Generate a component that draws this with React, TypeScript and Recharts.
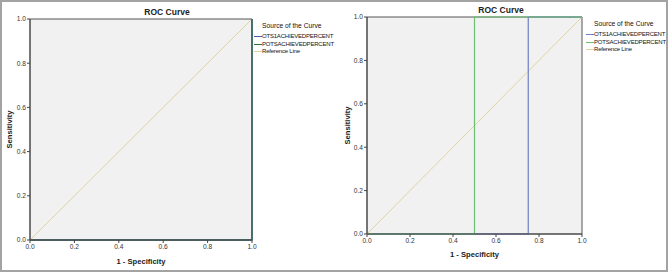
import { LineChart, Line, XAxis, YAxis, CartesianGrid, ReferenceArea } from "recharts";

const xTicks = [0, 0.2, 0.4, 0.6, 0.8, 1];
const yTicks = [0, 0.2, 0.4, 0.6, 0.8, 1];

// left panel: both curves run along the bottom and right edges
const leftOts1 = [
  { x: 0, y: 0 },
  { x: 1, y: 0 },
  { x: 1, y: 1 },
];
const leftPots = [
  { x: 0, y: 0 },
  { x: 1, y: 0 },
  { x: 1, y: 1 },
];

// right panel: step curves
const rightOts1 = [
  { x: 0, y: 0 },
  { x: 0.75, y: 0 },
  { x: 0.75, y: 1 },
  { x: 1, y: 1 },
];
const rightPots = [
  { x: 0, y: 0 },
  { x: 0.5, y: 0 },
  { x: 0.5, y: 1 },
  { x: 1, y: 1 },
];

const referenceLine = [
  { x: 0, y: 0 },
  { x: 1, y: 1 },
];

const legendNames = ["OTS1ACHIEVEDPERCENT", "POTSACHIEVEDPERCENT", "Reference Line"];

const FONT = "'Liberation Sans', Arial, sans-serif";
const REF_COLOR = "#dcd69e";
const tickStyle = { fontSize: 6.6, fill: "#333", fontFamily: FONT };

type Panel = {
  left: number;
  ots1: { x: number; y: number }[];
  pots: { x: number; y: number }[];
  blue: string;
  green: string;
  margin: { top: number; right: number; bottom: number; left: number };
  yAxisWidth: number;
  xAxisHeight: number;
  xLabelOffset: number;
  yLabelX: number;
  titleY: number;
  legendX: number;
  legendY: number;
};

function Legend({ x, y, colors }: { x: number; y: number; colors: string[] }) {
  return (
    <div style={{ position: "absolute", left: x, top: y, fontFamily: FONT, color: "#111" }}>
      <div style={{ fontSize: 6.7, marginLeft: 8, lineHeight: "8px", marginBottom: 3 }}>Source of the Curve</div>
      {legendNames.map((n, i) => (
        <div key={n} style={{ display: "flex", alignItems: "center", height: 7.5 }}>
          <span style={{ width: 8, height: 1, background: colors[i], display: "inline-block" }} />
          <span style={{ fontSize: 6, letterSpacing: -0.2, lineHeight: "7px" }}>{n}</span>
        </div>
      ))}
    </div>
  );
}

function RocPanel(p: Panel) {
  const w = 334;
  const h = 272;
  return (
    <div style={{ position: "absolute", left: p.left, top: 0, width: w, height: h }}>
      <div
        style={{
          position: "absolute",
          left: 0,
          width: w,
          top: p.titleY - 6,
          textAlign: "center",
          fontFamily: FONT,
          fontWeight: "bold",
          fontSize: 8.5,
          lineHeight: "12px",
          color: "#222",
        }}
      >
        ROC Curve
      </div>
      <LineChart width={w} height={h} margin={p.margin}>
        <CartesianGrid fill="#f1f1f1" horizontal={false} vertical={false} />
        <XAxis
          dataKey="x"
          type="number"
          domain={[0, 1]}
          ticks={xTicks}
          tickFormatter={(v: number) => v.toFixed(1)}
          height={p.xAxisHeight}
          tick={tickStyle}
          tickSize={3}
          tickMargin={1}
          stroke="#444"
          label={{
            value: "1 - Specificity",
            position: "insideBottom",
            offset: p.xLabelOffset,
            style: { fontSize: 7.6, fontWeight: "bold", fill: "#222", fontFamily: FONT },
          }}
        />
        <YAxis
          type="number"
          domain={[0, 1]}
          ticks={yTicks}
          tickFormatter={(v: number) => v.toFixed(1)}
          width={p.yAxisWidth}
          tick={tickStyle}
          tickSize={3}
          tickMargin={1}
          stroke="#444"
          label={{
            content: (props: any) => {
              const vb = props.viewBox;
              const cy = vb.y + vb.height / 2;
              return (
                <text
                  x={p.yLabelX}
                  y={cy}
                  transform={`rotate(-90 ${p.yLabelX} ${cy})`}
                  textAnchor="middle"
                  dominantBaseline="central"
                  style={{ fontSize: 7.6, fontWeight: "bold", fill: "#222", fontFamily: FONT }}
                >
                  Sensitivity
                </text>
              );
            },
          }}
        />
        <ReferenceArea x1={0} x2={1} y1={0} y2={1} fill="none" stroke="#555" strokeWidth={1} ifOverflow="visible" />
        <Line data={referenceLine} dataKey="y" type="linear" stroke={REF_COLOR} strokeWidth={1} dot={false} isAnimationActive={false} />
        <Line data={p.ots1} dataKey="y" type="linear" stroke={p.blue} strokeWidth={1.2} dot={false} isAnimationActive={false} />
        <Line data={p.pots} dataKey="y" type="linear" stroke={p.green} strokeWidth={1.2} dot={false} isAnimationActive={false} />
      </LineChart>
      <Legend x={p.legendX} y={p.legendY} colors={[p.blue, p.green, REF_COLOR]} />
    </div>
  );
}

export default function App() {
  return (
    <div style={{ position: "absolute", left: 0, top: 0, width: 668, height: 272, background: "#fff", overflow: "hidden" }}>
      <RocPanel
        left={0}
        ots1={leftOts1}
        pots={leftPots}
        blue="#4658b4"
        green="#2f6e3c"
        margin={{ top: 19, right: 82, bottom: 0, left: 0 }}
        yAxisWidth={30}
        xAxisHeight={32}
        xLabelOffset={8}
        yLabelX={9}
        titleY={12}
        legendX={254}
        legendY={22}
      />
      <RocPanel
        left={334}
        ots1={rightOts1}
        pots={rightPots}
        blue="#6d7ec4"
        green="#6cbf72"
        margin={{ top: 17, right: 86, bottom: 0, left: 0 }}
        yAxisWidth={33}
        xAxisHeight={38}
        xLabelOffset={15}
        yLabelX={13}
        titleY={10}
        legendX={252}
        legendY={20}
      />
      <div
        style={{
          position: "absolute",
          left: 0,
          top: 0,
          width: 668,
          height: 272,
          boxSizing: "border-box",
          border: "2px solid #a3a3a3",
          pointerEvents: "none",
        }}
      />
    </div>
  );
}
